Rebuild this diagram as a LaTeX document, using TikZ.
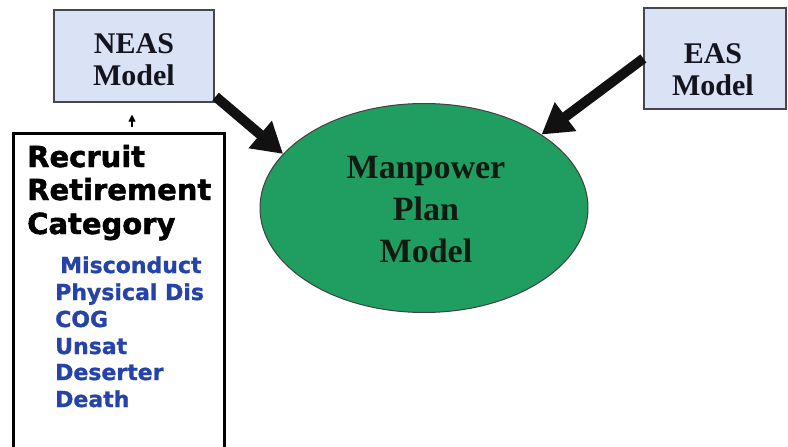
\documentclass[tikz,border=0pt]{standalone}
\usepackage{fontspec}
\setmainfont{Liberation Serif}
\newfontfamily\dvsheavy{DejaVu Sans Bold}[FakeBold=1.6]
\newfontfamily\dvsblue{DejaVu Sans Bold}[FakeBold=1.2]
\usetikzlibrary{shapes.geometric,arrows.meta}
\definecolor{boxblue}{RGB}{218,227,245}
\definecolor{boxedge}{RGB}{70,70,80}
\definecolor{mpgreen}{RGB}{32,158,98}
\definecolor{listblue}{RGB}{38,68,168}
\definecolor{arrowblack}{RGB}{17,17,17}
\begin{document}
\begin{tikzpicture}[x=1pt,y=-1pt,
  modelbox/.style={rectangle, draw=boxedge, line width=1.2pt, fill=boxblue, inner sep=0pt},
  modeltext/.style={font=\bfseries\fontsize{30}{32}\selectfont, align=center, inner sep=0pt, text={rgb,255:red,20;green,20;blue,30}},
  mptext/.style={font=\bfseries\fontsize{34}{42}\selectfont, align=center, inner sep=0pt, text={rgb,255:red,16;green,26;blue,16}},
  headtext/.style={font=\dvsheavy\fontsize{29}{34}\selectfont, anchor=base west, inner sep=0pt, text=black},
  listtext/.style={font=\dvsblue\fontsize{22}{27}\selectfont, anchor=base west, inner sep=0pt, text=listblue},
  bigarrow/.style={draw=arrowblack, line width=10pt, -{Triangle[length=30pt,width=34pt]}},
  smallarrow/.style={draw=black, line width=1.2pt, -{Triangle[length=7pt,width=7pt]}}
]
\clip (0,0) rectangle (788,447);
\fill[white] (0,0) rectangle (788,447);

% boxes
\node[modelbox, minimum width=160pt, minimum height=92pt] (neas) at (134,56) {};
\node[modeltext] (neastxt) at (134,60) {NEAS\\Model};
\node[modelbox, minimum width=142pt, minimum height=101pt] (eas) at (715,58.5) {};
\node[modeltext] (eastxt) at (713,70) {EAS\\Model};

% ellipse
\node[ellipse, draw=black!75, line width=1pt, fill=mpgreen, minimum width=328pt, minimum height=209pt, inner sep=0pt] (mp) at (424,208) {};
\node[mptext] (mptxt) at (426,210) {Manpower\\Plan\\Model};

% recruit box
\node[rectangle, draw=black, line width=3pt, minimum width=211pt, minimum height=340pt, anchor=north west, inner sep=0pt] (rbox) at (12,132) {};
\node[headtext] (r1) at (27,167) {Recruit};
\node[headtext] (r2) at (27,200) {Retirement};
\node[headtext] (r3) at (27,234) {Category};
\node[listtext] (l1) at (60,273) {Misconduct};
\node[listtext] (l2) at (55,300) {Physical Dis};
\node[listtext] (l3) at (55,327) {COG};
\node[listtext] (l4) at (55,354) {Unsat};
\node[listtext] (l5) at (55,380) {Deserter};
\node[listtext] (l6) at (55,407) {Death};

% connectors
\coordinate (sa) at (132,127);
\draw[smallarrow, shorten >=12pt] (sa) -- (sa |- neas.south);
\draw[bigarrow] ([shift={(1,-6)}]neas.south east) -- (mp.159);
\draw[bigarrow] (eas.west) -- (mp.32);
\end{tikzpicture}
\end{document}
